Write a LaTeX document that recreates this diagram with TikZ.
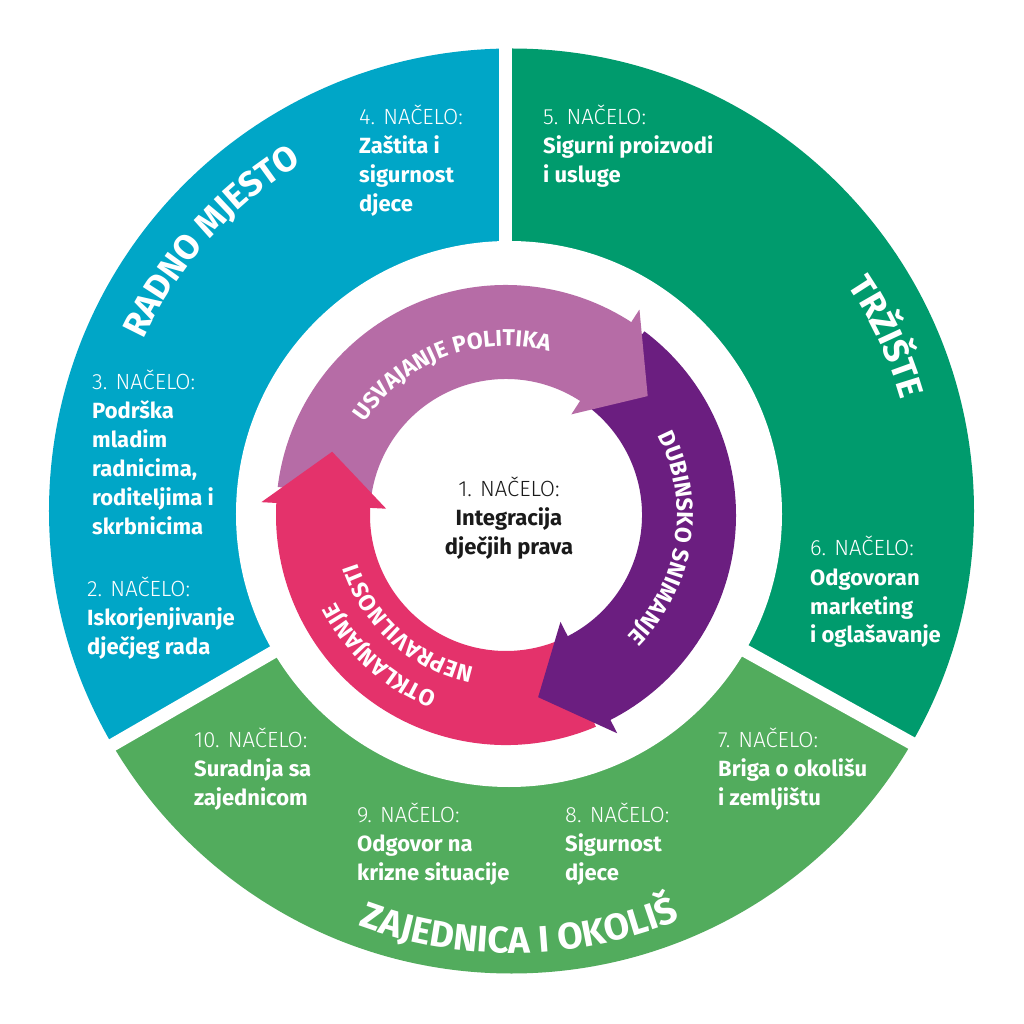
\documentclass[tikz,border=0pt]{standalone}
\usepackage{fontspec}
\setmainfont{Fira Sans}
\newfontfamily\lightfont{Fira Sans Light}
\usetikzlibrary{decorations.text}
\definecolor{cblue}{HTML}{00A6C7}
\definecolor{cdgreen}{HTML}{009B6D}
\definecolor{clgreen}{HTML}{52AC5D}
\definecolor{clpurple}{HTML}{B66CA6}
\definecolor{cpurple}{HTML}{6B1E80}
\definecolor{cpink}{HTML}{E4326B}
\definecolor{ctext}{HTML}{1A1A1A}
\newcommand{\bt}[1]{\textbf{#1}}
\newcommand{\lt}[1]{{\lightfont #1}}
\newcommand{\arrband}[3]{\fill[#1] ([shift={(A)}]#2:230) arc[start angle=#2, end angle=#3, radius=230] -- ([shift={(A)}]#3:136) arc[start angle=#3, end angle=#2, radius=136] -- cycle;}
\newcommand{\arrhead}[2]{\fill[#1] ([shift={(A)}]#2:245) -- ([shift={(A)}]{#2-17}:185) -- ([shift={(A)}]#2:120) -- cycle;}
\begin{document}
\begin{tikzpicture}[x=1pt,y=1pt,
  lbl/.style={anchor=base west, align=left, text=white, inner sep=0pt, font=\fontsize{22}{29}\selectfont},
  arctext/.style={decorate, decoration={text along path, text align=center, text color=white, text={#1}}},
  gap/.style={white, line width=13pt},
]
\useasboundingbox (-512,-512) rectangle (512,512);
\fill[white] (-512,-512) rectangle (512,512);
\coordinate (G) at (-6.5,-6);
\coordinate (A) at (-6,-3);
% outer ring sectors
\begin{scope}
  \clip (-0.5,1) circle[radius=462.5];
  \fill[cblue] (G) -- ([shift={(G)}]90:800) -- ([shift={(G)}]150:800) -- ([shift={(G)}]210:800) -- cycle;
  \fill[cdgreen] (G) -- ([shift={(G)}]90:800) -- ([shift={(G)}]30:800) -- ([shift={(G)}]331:800) -- cycle;
  \fill[clgreen] (G) -- ([shift={(G)}]210:800) -- ([shift={(G)}]270:800) -- ([shift={(G)}]331:800) -- cycle;
\end{scope}
\coordinate (gtop) at ([shift={(G)}]90:520);
\coordinate (gleft) at ([shift={(G)}]210:520);
\coordinate (gright) at ([shift={(G)}]331:520);
\draw[gap] (G) -- (gtop);
\draw[gap] (G) -- (gleft);
\draw[gap] (G) -- (gright);
\fill[white] (-3,-2) circle[radius=273];
% circular arrows (bands run 2 degrees under their heads to avoid seams)
\arrband{clpurple}{173}{55}
\arrband{cpurple}{53}{-65}
\arrband{cpink}{-67}{-185}
\arrhead{clpurple}{57}
\arrhead{cpurple}{-63}
\arrhead{cpink}{177}
% arrow texts
\path[arctext={|\bfseries\fontsize{23}{23}\selectfont|USVAJANJE POLITIKA}] ([shift={(A)}]171:169) arc[start angle=171, end angle=51, radius=169];
\path[arctext={|\bfseries\fontsize{23}{23}\selectfont|DUBINSKO SNIMANJE}] ([shift={(A)}]51.3:171) arc[start angle=51.3, end angle=-68.7, radius=171];
\path[arctext={|\bfseries\fontsize{23}{23}\selectfont|OTKLANJANJE}] ([shift={(A)}]-72:191) arc[start angle=-72, end angle=-192, radius=191];
\path[arctext={|\bfseries\fontsize{23}{23}\selectfont|NEPRAVILNOSTI}] ([shift={(A)}]-72:156) arc[start angle=-72, end angle=-192, radius=156];
% section titles
\path[arctext={|\bfseries\fontsize{35}{35}\selectfont|RADNO MJESTO}] (178:407) arc[start angle=178, end angle=98, radius=407];
\path[arctext={|\bfseries\fontsize{35}{35}\selectfont|TRŽIŠTE}] (65:405) arc[start angle=65, end angle=-15, radius=405];
\path[arctext={|\bfseries\fontsize{37}{37}\selectfont|ZAJEDNICA I OKOLIŠ}] (-134:441) arc[start angle=-134, end angle=-44, radius=441];
% labels (anchor = baseline of last line)
\node[lbl] (n4) at (-153,300) {\lt{4. NAČELO:}\\\bt{Zaštita i}\\\bt{sigurnost}\\\bt{djece}};
\node[lbl] (n5) at (31,329) {\lt{5. NAČELO:}\\\bt{Sigurni proizvodi}\\\bt{i usluge}};
\node[lbl] (n3) at (-420,-23) {\lt{3. NAČELO:}\\\bt{Podrška}\\\bt{mladim}\\\bt{radnicima,}\\\bt{roditeljima i}\\\bt{skrbnicima}};
\node[lbl] (n2) at (-425,-142) {\lt{2. NAČELO:}\\\bt{Iskorjenjivanje}\\\bt{dječjeg rada}};
\node[lbl] (n6) at (298,-131) {\lt{6. NAČELO:}\\\bt{Odgovoran}\\\bt{marketing}\\\bt{i oglašavanje}};
\node[lbl] (n7) at (206,-293) {\lt{7. NAČELO:}\\\bt{Briga o okolišu}\\\bt{i zemljištu}};
\node[lbl] (n8) at (53,-368) {\lt{8. NAČELO:}\\\bt{Sigurnost}\\\bt{djece}};
\node[lbl] (n9) at (-155,-368) {\lt{9. NAČELO:}\\\bt{Odgovor na}\\\bt{krizne situacije}};
\node[lbl] (n10) at (-318,-293) {\lt{10. NAČELO:}\\\bt{Suradnja sa}\\\bt{zajednicom}};
\node[lbl, anchor=base, align=center, text=ctext] (n1) at (-3,-43) {\lt{1. NAČELO:}\\\bt{Integracija}\\\bt{dječjih prava}};
\end{tikzpicture}
\end{document}
